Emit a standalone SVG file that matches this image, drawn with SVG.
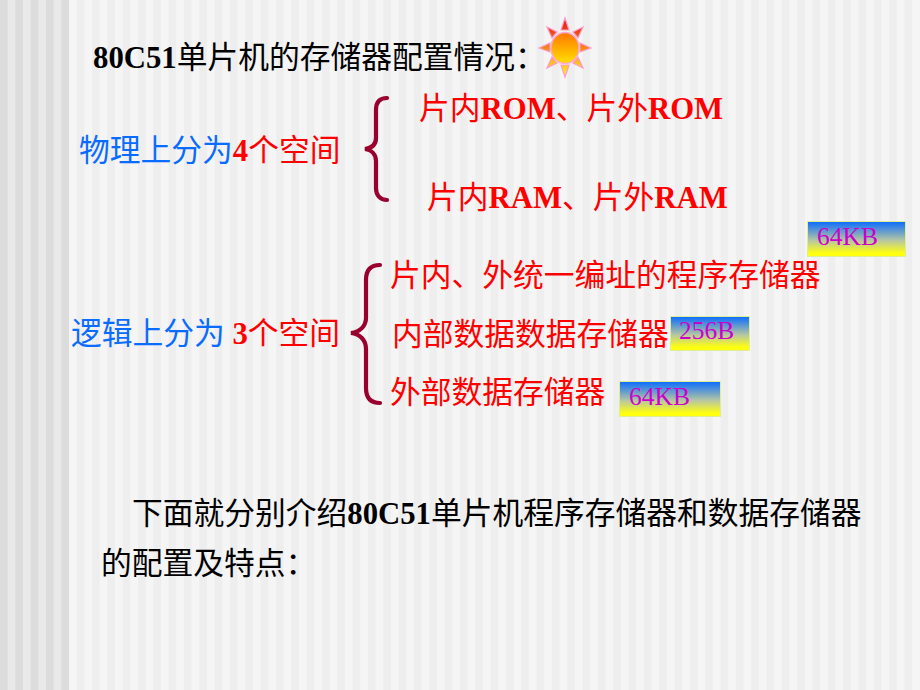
<svg xmlns="http://www.w3.org/2000/svg" width="920" height="690" viewBox="0 0 920 690">
<style>
.t{font-family:"Liberation Serif","Noto Sans CJK SC",serif;font-size:30.75px}
.sm{font-family:"Liberation Serif",serif;font-size:25.5px;fill:#cc00cc}
.b{font-weight:bold}
.red{fill:#ff0000}.blue{fill:#0a6cff}.blk{fill:#000}
.br{fill:none;stroke:#99002e;stroke-width:4.2;stroke-linecap:round}
.ray{stroke:#ff99cc;stroke-width:1.2}
.box{stroke:#ddee99;stroke-width:1;fill:url(#g)}
</style>
<defs>
<linearGradient id="g" x1="0" y1="0" x2="0" y2="1"><stop offset="0" stop-color="#0a6cff"/><stop offset="0.55" stop-color="#b8c8a0"/><stop offset="0.9" stop-color="#ffff10"/><stop offset="1" stop-color="#ffff10"/></linearGradient>
<linearGradient id="s" x1="0" y1="0" x2="0" y2="1"><stop offset="0" stop-color="#ff7700"/><stop offset="1" stop-color="#ffe000"/></linearGradient>
<pattern id="p1" width="15.33" height="690" patternUnits="userSpaceOnUse"><rect width="15.33" height="690" fill="#f5f5f5"/><rect width="7.67" height="690" fill="#eeeeee"/></pattern>
<pattern id="p2" width="15.33" height="690" patternUnits="userSpaceOnUse"><rect width="15.33" height="690" fill="#e9e9e9"/><rect width="7.67" height="690" fill="#dcdcdc"/></pattern>
<linearGradient id="ry" x1="0" y1="18" x2="0" y2="78" gradientUnits="userSpaceOnUse"><stop offset="0" stop-color="#e81010"/><stop offset="1" stop-color="#ffff20"/></linearGradient>
</defs>
<g id="background">
<rect width="920" height="690" fill="url(#p1)"/>
<rect width="69" height="690" fill="url(#p2)"/>
</g>
<g id="title"><text class="t blk" x="93" y="68"><tspan class="b">80C51</tspan>单片机的存储器配置情况：</text></g>
<g id="sun">
<g class="ray" fill="url(#ry)">
<polygon points="565,18 569,30 561,30"/>
<polygon points="565,77 561,65 569,65"/>
<polygon points="539,48 550,43 550,52"/>
<polygon points="591,48 580,43 580,52"/>
<polygon points="547,27 557,32 552,38"/>
<polygon points="583,27 573,32 578,38"/>
<polygon points="547,68 552,57 557,63"/>
<polygon points="583,68 578,57 573,63"/>
</g>
<ellipse cx="565" cy="48" rx="14" ry="15.5" fill="url(#s)" stroke="#ffaacc" stroke-width="1.5"/>
</g>
<g id="connectors">
<path class="br" d="M387,98 C380,98 376,102 376,110 L376,138 C376,144 372,148 365,149 C372,150 376,155 376,161 L376,188 C376,195 380,200 387,200"/>
<path class="br" d="M380,265 C371,265 366,270 366,280 L366,318 C366,326 360,332 351,333 C360,334 366,340 366,349 L366,388 C366,398 371,403 380,403"/>
</g>
<g id="physical"><text class="t blue" x="79" y="161">物理上分为<tspan class="b red">4</tspan><tspan class="red">个空间</tspan></text></g>
<g id="rom"><text class="t b red" x="419" y="119"><tspan font-weight="normal">片内</tspan>ROM<tspan font-weight="normal">、片外</tspan>ROM</text></g>
<g id="ram"><text class="t b red" x="427" y="208"><tspan font-weight="normal">片内</tspan>RAM<tspan font-weight="normal">、片外</tspan>RAM</text></g>
<g id="logical"><text class="t blue" x="71" y="344">逻辑上分为 <tspan class="b red">3</tspan><tspan class="red">个空间</tspan></text></g>
<g id="l1"><text class="t red" x="390" y="286">片内、外统一编址的程序存储器</text></g>
<g id="l2"><text class="t red" x="392" y="345">内部数据数据存储器</text></g>
<g id="l3"><text class="t red" x="390" y="403">外部数据存储器</text></g>
<g id="badge1"><rect class="box" x="807.500" y="221.500" width="98" height="35"/><text class="sm" x="817" y="245">64KB</text></g>
<g id="badge2"><rect class="box" x="670.500" y="316.500" width="79" height="34"/><text class="sm" x="679" y="339">256B</text></g>
<g id="badge3"><rect class="box" x="619.500" y="381.500" width="101" height="35"/><text class="sm" x="629" y="405">64KB</text></g>
<g id="intro">
<text class="t blk" x="132" y="524">下面就分别介绍<tspan class="b">80C51</tspan>单片机程序存储器和数据存储器</text>
<text class="t blk" x="101" y="574">的配置及特点：</text>
</g>
</svg>
